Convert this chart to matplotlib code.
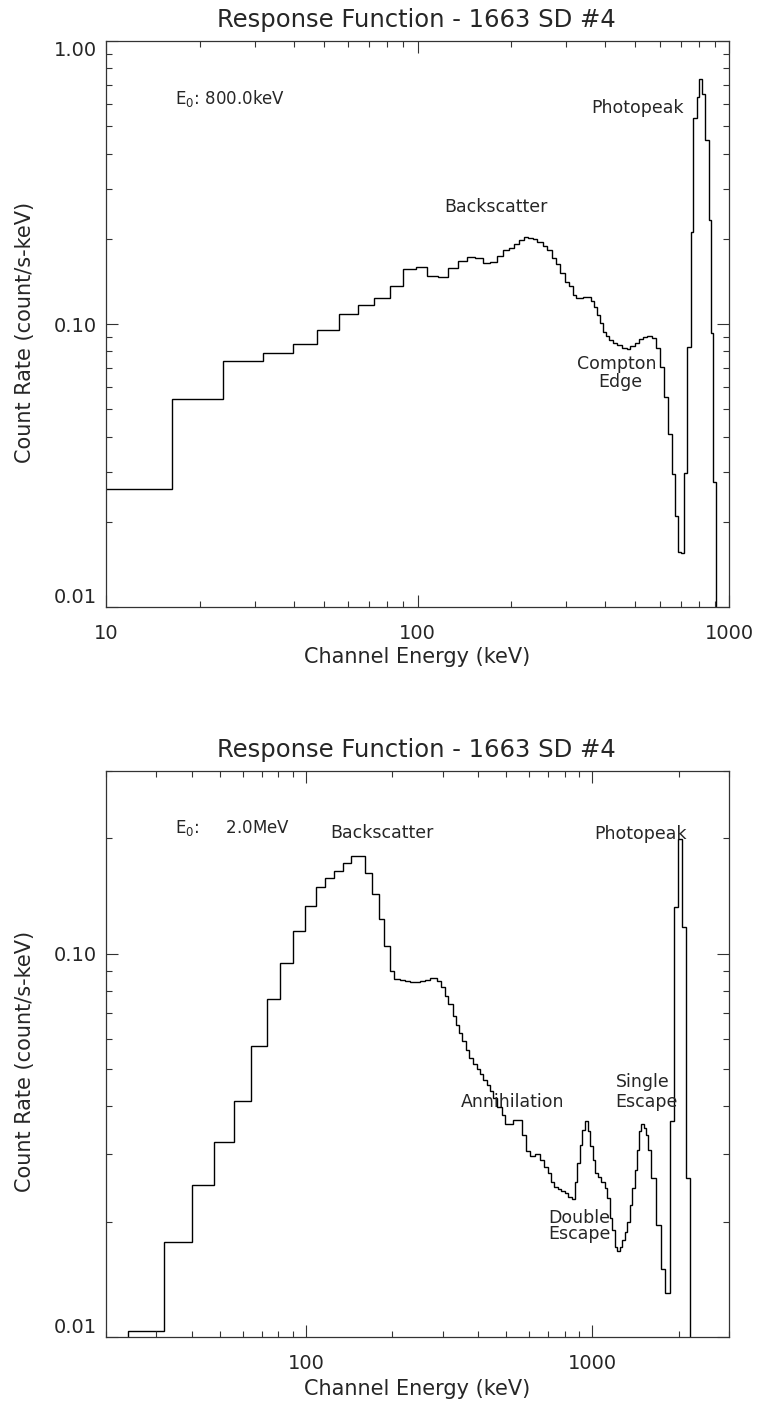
import numpy as np
import matplotlib
matplotlib.use("Agg")
from matplotlib import pyplot as plt

plt.rcParams['font.family'] = ['DejaVu Sans']

# ---- 800 keV response: channel edges (keV) and count rate (count/s-keV)
edges_800 = [8.0, 16.3, 23.8, 31.9, 39.8, 47.7, 55.8, 64.3, 72.7, 81.6,
             90.0, 98.9, 107.5, 116.6, 125.6, 134.6, 143.9, 152.9, 161.9, 170.9,
             179.6, 187.7, 196.3, 204.6, 212.3, 219.8, 226.9, 234.4, 242.5, 252.3,
             261.1, 269.7, 278.4, 286.7, 297.6, 306.5, 315.0, 322.1, 331.2, 340.7,
             350.1, 359.8, 368.7, 377.8, 385.4, 393.2, 402.9, 412.8, 423.3, 436.0,
             452.4, 469.5, 481.1, 499.2, 515.3, 530.8, 546.7, 564.8, 581.7, 600.5,
             619.8, 634.7, 654.6, 670.8, 687.4, 702.8, 718.6, 734.7, 755.1, 768.0,
             787.6, 802.8, 820.8, 837.4, 865.7, 872.2, 890.4, 906.4]
rate_800 = [0.0261, 0.0545, 0.0740, 0.0790, 0.0848, 0.0956, 0.1082, 0.1167, 0.1233, 0.1359,
            0.1568, 0.1594, 0.1474, 0.1462, 0.1573, 0.1665, 0.1721, 0.1707, 0.1639, 0.1652,
            0.1743, 0.1822, 0.1856, 0.1912, 0.1981, 0.2025, 0.2013, 0.1997, 0.1953, 0.1891,
            0.1822, 0.1715, 0.1625, 0.1511, 0.1411, 0.1362, 0.1266, 0.1233, 0.1236, 0.1243,
            0.1243, 0.1209, 0.1151, 0.1076, 0.1006, 0.0939, 0.0907, 0.0878, 0.0859, 0.0843,
            0.0825, 0.0814, 0.0836, 0.0859, 0.0885, 0.0902, 0.0909, 0.0890, 0.0821, 0.0703,
            0.0554, 0.0409, 0.0294, 0.0210, 0.0156, 0.0155, 0.0297, 0.0832, 0.2109, 0.5332,
            0.6356, 0.7340, 0.6481, 0.4469, 0.2331, 0.0929, 0.0276]

# ---- 2.0 MeV response
edges_2000 = [23.9, 31.8, 39.9, 47.5, 55.8, 64.1, 72.9, 81.2, 90.3, 99.2,
              108.1, 116.5, 125.5, 134.6, 143.6, 151.8, 161.0, 169.9, 179.3, 187.6,
              196.3, 203.3, 212.8, 221.5, 230.6, 240.0, 249.8, 260.1, 270.7, 285.7,
              295.7, 305.4, 313.6, 324.9, 333.6, 341.8, 350.1, 361.5, 371.2, 381.5,
              394.0, 404.6, 415.4, 426.9, 438.4, 450.1, 464.8, 481.6, 494.5, 510.6,
              528.6, 546.7, 565.5, 584.0, 604.5, 629.3, 655.1, 676.5, 700.2, 719.6,
              733.0, 756.9, 779.7, 800.6, 822.1, 851.7, 867.6, 883.8, 903.2, 923.0,
              940.1, 965.3, 984.0, 1004.8, 1024.4, 1046.0, 1075.0, 1103.8, 1128.0, 1149.0,
              1174.3, 1196.2, 1218.5, 1252.3, 1272.6, 1296.3, 1320.5, 1349.4, 1379.0, 1404.7,
              1430.9, 1454.1, 1482.4, 1510.0, 1534.5, 1563.1, 1606.3, 1662.8, 1730.9, 1797.5,
              1860.7, 1921.4, 1988.9, 2053.9, 2115.9, 2185.0]
rate_2000 = [0.01037, 0.01774, 0.02493, 0.03224, 0.04133, 0.05752, 0.07617, 0.09457, 0.1144, 0.1329,
             0.1494, 0.1576, 0.1647, 0.1723, 0.1795, 0.1795, 0.1625, 0.1432, 0.1234, 0.1045,
             0.0899, 0.0859, 0.0853, 0.0848, 0.0844, 0.0842, 0.0847, 0.0855, 0.0864, 0.0847,
             0.0817, 0.0777, 0.0739, 0.0689, 0.0653, 0.0622, 0.0593, 0.0562, 0.0535, 0.0516,
             0.0501, 0.0486, 0.0469, 0.0455, 0.0439, 0.0421, 0.0399, 0.0380, 0.0359, 0.0359,
             0.0369, 0.0368, 0.0337, 0.0305, 0.0296, 0.0300, 0.0290, 0.0278, 0.0268, 0.0254,
             0.0246, 0.0243, 0.0241, 0.0238, 0.0232, 0.0229, 0.0253, 0.0284, 0.0317, 0.0346,
             0.0365, 0.0344, 0.0314, 0.0290, 0.0268, 0.0261, 0.0254, 0.0244, 0.0230, 0.0204,
             0.0190, 0.0172, 0.0168, 0.0172, 0.0179, 0.0188, 0.0200, 0.0221, 0.0244, 0.0273,
             0.0308, 0.0344, 0.0359, 0.0351, 0.0337, 0.0308, 0.0260, 0.0196, 0.0150, 0.0130,
             0.0365, 0.1324, 0.1985, 0.1174, 0.0260]

title = "Response Function - 1663 SD #4"
xlabel = "Channel Energy (keV)"
ylabel = "Count Rate (count/s-keV)"

INK = "#262626"
W, H = 759, 1403


def fy(py):
    return 1 - py / H


def style(ax, xlim, ylim, xmaj, xmajlab, xmin, ymaj, ymajlab, ymin):
    ax.set_xscale("log")
    ax.set_yscale("log")
    ax.set_xlim(*xlim)
    ax.set_ylim(*ylim)
    ax.set_xticks(xmaj, xmajlab)
    ax.set_xticks(xmin, [""] * len(xmin), minor=True)
    ax.set_yticks(ymaj, ymajlab)
    ax.set_yticks(ymin, [""] * len(ymin), minor=True)
    ax.tick_params(which="both", direction="in", top=True, right=True,
                   color="#333333", width=0.8, labelsize=14, labelcolor=INK)
    ax.tick_params(which="major", length=8.6)
    ax.tick_params(which="minor", length=4.3)
    ax.tick_params(axis="x", which="major", pad=12.5)
    ax.tick_params(axis="y", which="major", pad=6.5)
    for s in ax.spines.values():
        s.set_color("#333333")
        s.set_linewidth(0.9)


fig = plt.figure(figsize=(W / 100, H / 100), dpi=100)

# ---------------- top panel: 800 keV
ax1 = fig.add_axes([106 / W, fy(607), 623 / W, 566 / H])
ax1.stairs(rate_800, edges_800, baseline=1e-3, color="black", lw=1.0)
style(ax1, (10, 1000), (0.01, 1.0),
      [10, 100, 1000], ["10", "100", "1000"],
      [20, 30, 40, 50, 60, 70, 80, 90, 200, 300, 400, 500, 600, 700, 800, 900],
      [0.01, 0.1, 1.0], ["0.01", "0.10", "1.00"],
      [0.02, 0.03, 0.04, 0.05, 0.06, 0.07, 0.08, 0.09, 0.2, 0.3, 0.4, 0.5, 0.6, 0.7, 0.8, 0.9])
lab = ax1.get_yticklabels()
lab[0].set_va("bottom")
lab[-1].set_va("top")

fs = 12.5
ax1.text(0.1108, 0.8887, r"E$_0$: 800.0keV", transform=ax1.transAxes,
         fontsize=12, color=INK, va="baseline")
ax1.text(0.6252, 0.6973, "Backscatter", transform=ax1.transAxes,
         fontsize=fs, color=INK, ha="center", va="baseline")
ax1.text(0.9266, 0.8723, "Photopeak", transform=ax1.transAxes,
         fontsize=fs, color=INK, ha="right", va="baseline")
ax1.text(0.8192, 0.4205, "Compton", transform=ax1.transAxes,
         fontsize=fs, color=INK, ha="center", va="baseline")
ax1.text(0.8250, 0.3882, "Edge", transform=ax1.transAxes,
         fontsize=fs, color=INK, ha="center", va="baseline")

fig.text(416 / W, fy(27.3), title, ha="center", va="baseline", fontsize=17.5, color=INK)
fig.text(416.7 / W, fy(663), xlabel, ha="center", va="baseline", fontsize=15, color=INK)
fig.text(25 / W, fy(332), ylabel, ha="center", va="center", rotation=90,
         fontsize=15, color=INK)

# ---------------- bottom panel: 2.0 MeV
ax2 = fig.add_axes([106 / W, fy(1337), 623 / W, 566.3 / H])
ax2.stairs(rate_2000, edges_2000, baseline=1e-3, color="black", lw=1.0)
style(ax2, (20, 3000), (0.01, 0.3),
      [100, 1000], ["100", "1000"],
      [20, 30, 40, 50, 60, 70, 80, 90, 200, 300, 400, 500, 600, 700, 800, 900, 2000, 3000],
      [0.01, 0.1], ["0.01", "0.10"],
      [0.02, 0.03, 0.04, 0.05, 0.06, 0.07, 0.08, 0.09, 0.2, 0.3])
lab = ax2.get_yticklabels()
lab[0].set_va("bottom")

ax2.text(0.1108, 0.8894, r"E$_0$:     2.0MeV", transform=ax2.transAxes,
         fontsize=12, color=INK, va="baseline")
ax2.text(0.4433, 0.8812, "Backscatter", transform=ax2.transAxes,
         fontsize=fs, color=INK, ha="center", va="baseline")
ax2.text(0.8584, 0.8789, "Photopeak", transform=ax2.transAxes,
         fontsize=fs, color=INK, ha="center", va="baseline")
ax2.text(0.6533, 0.4067, "Annihilation", transform=ax2.transAxes,
         fontsize=fs, color=INK, ha="center", va="baseline")
ax2.text(0.8181, 0.4409, "Single", transform=ax2.transAxes,
         fontsize=fs, color=INK, va="baseline")
ax2.text(0.8181, 0.4067, "Escape", transform=ax2.transAxes,
         fontsize=fs, color=INK, va="baseline")
ax2.text(0.7100, 0.2018, "Double", transform=ax2.transAxes,
         fontsize=fs, color=INK, va="baseline")
ax2.text(0.7100, 0.1725, "Escape", transform=ax2.transAxes,
         fontsize=fs, color=INK, va="baseline")

fig.text(416 / W, fy(757.3), title, ha="center", va="baseline", fontsize=17.5, color=INK)
fig.text(416.7 / W, fy(1395), xlabel, ha="center", va="baseline", fontsize=15, color=INK)
fig.text(25 / W, fy(1061), ylabel, ha="center", va="center", rotation=90,
         fontsize=15, color=INK)

fig.savefig("out.png", dpi=100, facecolor="white")
